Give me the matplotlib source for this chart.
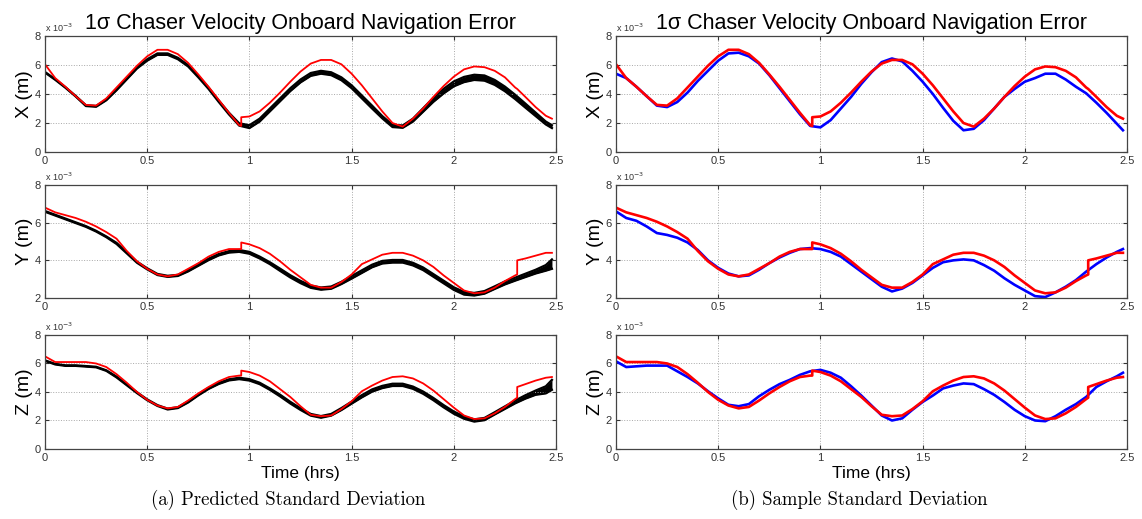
import numpy as np
import matplotlib
matplotlib.use("Agg")
import matplotlib.pyplot as plt

# time grid (hrs) for the black / blue curves
t = [0.00, 0.05, 0.10, 0.15, 0.20, 0.25, 0.30, 0.35, 0.40, 0.45,
     0.50, 0.55, 0.60, 0.65, 0.70, 0.75, 0.80, 0.85, 0.90, 0.95,
     1.00, 1.05, 1.10, 1.15, 1.20, 1.25, 1.30, 1.35, 1.40, 1.45,
     1.50, 1.55, 1.60, 1.65, 1.70, 1.75, 1.80, 1.85, 1.90, 1.95,
     2.00, 2.05, 2.10, 2.15, 2.20, 2.25, 2.30, 2.35, 2.40, 2.45, 2.48]

# time grid for the red curves (with the update jumps at 0.96 and 2.31)
t_red = [0.00, 0.05, 0.10, 0.15, 0.20, 0.25, 0.30, 0.35, 0.40, 0.45,
         0.50, 0.55, 0.60, 0.65, 0.70, 0.75, 0.80, 0.85, 0.90, 0.95, 0.96, 0.96,
         1.00, 1.05, 1.10, 1.15, 1.20, 1.25, 1.30, 1.35, 1.40, 1.45,
         1.50, 1.55, 1.60, 1.65, 1.70, 1.75, 1.80, 1.85, 1.90, 1.95,
         2.00, 2.05, 2.10, 2.15, 2.20, 2.25, 2.30, 2.31, 2.31, 2.35, 2.40, 2.45, 2.48]

# predicted sigma (black), x 1e-3 m
x_pred = [5.5, 5.0, 4.45, 3.85, 3.2, 3.15, 3.6, 4.3, 5.05, 5.8,
          6.35, 6.75, 6.75, 6.45, 5.95, 5.2, 4.4, 3.5, 2.65, 1.9,
          1.75, 2.2, 2.9, 3.6, 4.3, 4.9, 5.35, 5.5, 5.4, 5.05,
          4.5, 3.8, 3.1, 2.4, 1.8, 1.75, 2.2, 2.9, 3.6, 4.2,
          4.7, 5.0, 5.15, 5.1, 4.8, 4.35, 3.8, 3.2, 2.6, 2.0, 1.75]
y_pred = [6.6, 6.4, 6.2, 6.0, 5.8, 5.55, 5.25, 4.9, 4.4, 3.9,
          3.55, 3.25, 3.15, 3.2, 3.45, 3.75, 4.05, 4.3, 4.45, 4.5,
          4.4, 4.15, 3.85, 3.5, 3.15, 2.85, 2.6, 2.5, 2.55, 2.8,
          3.1, 3.4, 3.7, 3.9, 3.95, 3.95, 3.8, 3.55, 3.2, 2.85,
          2.5, 2.25, 2.2, 2.3, 2.55, 2.8, 3.0, 3.2, 3.4, 3.6, 3.8]
z_pred = [6.2, 5.95, 5.85, 5.85, 5.8, 5.75, 5.5, 5.05, 4.5, 3.95,
          3.45, 3.05, 2.8, 2.9, 3.3, 3.8, 4.25, 4.6, 4.85, 4.95,
          4.85, 4.6, 4.2, 3.75, 3.25, 2.8, 2.4, 2.25, 2.4, 2.8,
          3.25, 3.7, 4.1, 4.35, 4.5, 4.5, 4.3, 3.95, 3.5, 3.0,
          2.55, 2.2, 2.0, 2.1, 2.5, 2.9, 3.3, 3.65, 3.95, 4.15, 4.5]

# half-width of the bundle of black runs
x_spread = [0.02, 0.02, 0.02, 0.02, 0.03, 0.03, 0.03, 0.04, 0.04, 0.04,
            0.05, 0.05, 0.05, 0.05, 0.05, 0.05, 0.05, 0.05, 0.06, 0.08,
            0.1, 0.1, 0.1, 0.1, 0.1, 0.1, 0.1, 0.1, 0.1, 0.1,
            0.1, 0.1, 0.1, 0.08, 0.08, 0.08, 0.1, 0.12, 0.14, 0.16,
            0.17, 0.18, 0.18, 0.18, 0.17, 0.16, 0.15, 0.14, 0.12, 0.1, 0.1]
y_spread = [0.02, 0.02, 0.02, 0.02, 0.02, 0.02, 0.02, 0.03, 0.03, 0.03,
            0.03, 0.03, 0.03, 0.03, 0.04, 0.04, 0.04, 0.04, 0.04, 0.05,
            0.05, 0.05, 0.05, 0.06, 0.06, 0.06, 0.06, 0.06, 0.06, 0.06,
            0.07, 0.07, 0.07, 0.07, 0.07, 0.07, 0.07, 0.07, 0.07, 0.07,
            0.07, 0.07, 0.07, 0.07, 0.07, 0.08, 0.08, 0.09, 0.1, 0.15, 0.25]
z_spread = [0.02, 0.02, 0.02, 0.02, 0.02, 0.02, 0.02, 0.03, 0.03, 0.03,
            0.03, 0.03, 0.03, 0.03, 0.04, 0.04, 0.04, 0.04, 0.04, 0.05,
            0.05, 0.05, 0.05, 0.06, 0.06, 0.06, 0.06, 0.06, 0.06, 0.07,
            0.07, 0.08, 0.08, 0.08, 0.08, 0.08, 0.08, 0.08, 0.08, 0.08,
            0.08, 0.08, 0.08, 0.08, 0.08, 0.09, 0.1, 0.12, 0.15, 0.25, 0.35]

# red curves (same in both panels), x 1e-3 m
x_red = [6.05, 5.1, 4.5, 3.85, 3.25, 3.2, 3.7, 4.45, 5.2, 5.95,
         6.6, 7.05, 7.05, 6.75, 6.15, 5.35, 4.5, 3.6, 2.7, 1.85, 1.8, 2.4,
         2.45, 2.8, 3.4, 4.1, 4.85, 5.55, 6.1, 6.35, 6.35, 6.05,
         5.4, 4.6, 3.7, 2.8, 2.0, 1.75, 2.3, 3.0, 3.8, 4.55,
         5.2, 5.7, 5.9, 5.85, 5.6, 5.15, 4.45, 4.35, 4.35, 3.8, 3.1, 2.5, 2.3]
y_red = [6.8, 6.55, 6.4, 6.25, 6.05, 5.8, 5.5, 5.15, 4.5, 3.95,
         3.55, 3.25, 3.15, 3.25, 3.55, 3.85, 4.2, 4.45, 4.6, 4.6, 4.6, 4.95,
         4.85, 4.65, 4.35, 3.95, 3.5, 3.1, 2.7, 2.55, 2.55, 2.85,
         3.25, 3.8, 4.05, 4.3, 4.4, 4.4, 4.25, 4.0, 3.65, 3.2,
         2.8, 2.4, 2.25, 2.3, 2.55, 2.9, 3.2, 3.25, 4.0, 4.1, 4.25, 4.4, 4.4]
z_red = [6.5, 6.1, 6.1, 6.1, 6.1, 6.0, 5.75, 5.25, 4.65, 4.0,
         3.45, 3.05, 2.85, 2.95, 3.4, 3.9, 4.35, 4.75, 5.05, 5.15, 5.15, 5.5,
         5.4, 5.15, 4.75, 4.2, 3.65, 3.0, 2.4, 2.3, 2.35, 2.8,
         3.35, 4.05, 4.45, 4.8, 5.05, 5.1, 4.95, 4.6, 4.1, 3.5,
         2.9, 2.35, 2.1, 2.15, 2.5, 2.95, 3.5, 3.6, 4.35, 4.55, 4.8, 5.0, 5.05]

# sample sigma (blue), x 1e-3 m
x_samp = [5.4, 5.1, 4.5, 3.85, 3.2, 3.1, 3.45, 4.1, 4.9, 5.6,
          6.3, 6.8, 6.85, 6.6, 6.1, 5.3, 4.4, 3.5, 2.6, 1.8,
          1.7, 2.2, 3.0, 3.8, 4.7, 5.5, 6.2, 6.45, 6.25, 5.6,
          4.85, 4.0, 3.05, 2.15, 1.5, 1.6, 2.2, 3.0, 3.8, 4.35,
          4.85, 5.1, 5.4, 5.4, 5.0, 4.5, 4.05, 3.4, 2.7, 1.95, 1.5]
y_samp = [6.6, 6.25, 6.1, 5.8, 5.45, 5.35, 5.2, 4.95, 4.55, 4.0,
          3.6, 3.3, 3.15, 3.2, 3.5, 3.85, 4.15, 4.4, 4.6, 4.65,
          4.6, 4.45, 4.2, 3.8, 3.4, 3.0, 2.6, 2.35, 2.5, 2.8,
          3.2, 3.6, 3.9, 4.0, 4.05, 4.0, 3.75, 3.45, 3.05, 2.7,
          2.4, 2.1, 2.05, 2.3, 2.6, 2.95, 3.4, 3.8, 4.15, 4.45, 4.6]
z_samp = [6.15, 5.75, 5.8, 5.85, 5.85, 5.85, 5.45, 5.05, 4.6, 4.05,
          3.55, 3.1, 3.0, 3.15, 3.7, 4.15, 4.55, 4.85, 5.2, 5.45,
          5.55, 5.35, 5.0, 4.4, 3.75, 3.05, 2.35, 2.0, 2.15, 2.75,
          3.3, 3.75, 4.25, 4.45, 4.6, 4.55, 4.2, 3.8, 3.3, 2.75,
          2.3, 2.0, 1.95, 2.3, 2.75, 3.15, 3.65, 4.35, 4.75, 5.1, 5.35]

labels = ["X (m)", "Y (m)", "Z (m)"]
ylims = [(0, 8), (2, 8), (0, 8)]
xticks = [0, 0.5, 1, 1.5, 2, 2.5]
xticklabels = ["0", "0.5", "1", "1.5", "2", "2.5"]

plt.rcParams['font.family'] = ['Liberation Sans', 'DejaVu Sans']

fig = plt.figure(figsize=(11.42, 5.19), dpi=100)

rows = [(0.7071, 0.2235), (0.4258, 0.2177), (0.1349, 0.2197)]
lefts = [0.0394, 0.5394]
width = 0.4475

preds = [x_pred, y_pred, z_pred]
spreads = [x_spread, y_spread, z_spread]
reds = [x_red, y_red, z_red]
samps = [x_samp, y_samp, z_samp]


def style_axes(ax, i):
    ax.set_xlim(0, 2.5)
    ax.set_ylim(*ylims[i])
    lo, hi = ylims[i]
    ax.set_yticks(np.arange(lo, hi + 1, 2))
    ax.set_yticklabels([str(v) for v in np.arange(lo, hi + 1, 2)])
    ax.set_xticks(xticks)
    ax.set_xticklabels(xticklabels)
    ax.tick_params(direction="in", length=3, labelsize=8, colors="#333333",
                   top=True, right=True, pad=3)
    ax.grid(True, linestyle=":", color="#a8a8a8", linewidth=0.7)
    for s in ax.spines.values():
        s.set_color("#444444")
        s.set_linewidth(0.9)
    ax.set_ylabel(labels[i], fontsize=14, labelpad=1)
    ax.text(0.0, 1.015, r"x 10$^{-3}$", transform=ax.transAxes,
            fontsize=6.5, color="#333333", ha="left", va="bottom")


for col in range(2):
    for i in range(3):
        b, h = rows[i]
        ax = fig.add_axes([lefts[col], b, width, h])
        style_axes(ax, i)
        if col == 0:
            c = np.array(preds[i])
            s = np.array(spreads[i])
            ax.fill_between(t, c - s, c + s, color="black", linewidth=0)
            ax.plot(t, c - s, color="black", linewidth=1.6)
            ax.plot(t, c + s, color="black", linewidth=1.6)
            ax.plot(t_red, reds[i], color="#ff0000", linewidth=1.3)
        else:
            ax.plot(t, samps[i], color="#0000ff", linewidth=1.9)
            ax.plot(t_red, reds[i], color="#ff0000", linewidth=1.9)
        if i == 0:
            ax.set_title("1\u03c3 Chaser Velocity Onboard Navigation Error",
                         fontsize=15.5, pad=5)
        if i == 2:
            ax.set_xlabel("Time (hrs)", fontsize=12.5, labelpad=2)

fig.text(0.2520, 0.036, "(a) Predicted Standard Deviation",
         family="cmr10", fontsize=13.5, ha="center", va="center")
fig.text(0.7520, 0.036, "(b) Sample Standard Deviation",
         family="cmr10", fontsize=13.5, ha="center", va="center")

fig.savefig("out.png", dpi=100)
